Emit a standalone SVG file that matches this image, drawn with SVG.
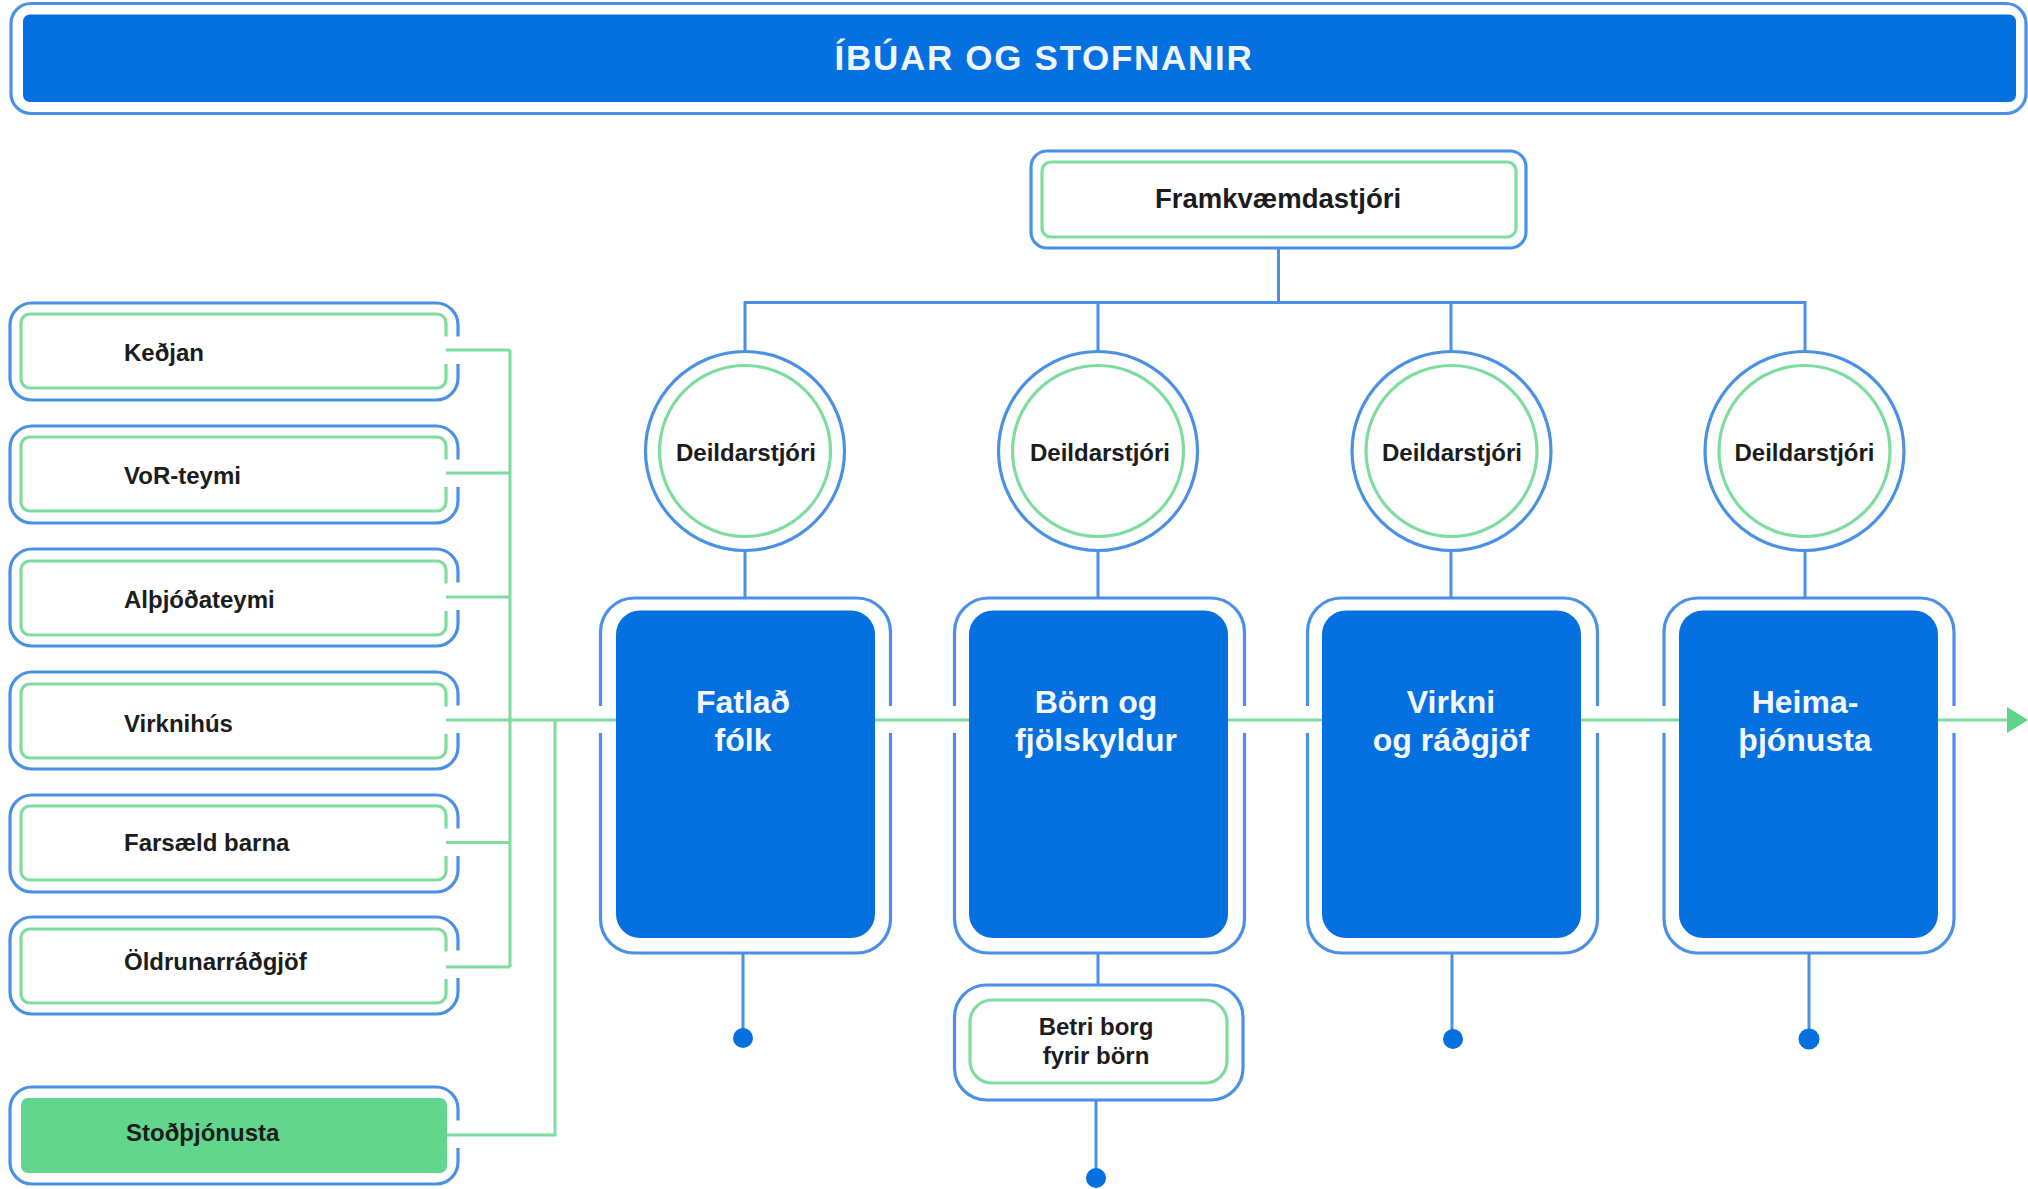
<svg xmlns="http://www.w3.org/2000/svg" xmlns:xlink="http://www.w3.org/1999/xlink" width="2028" height="1189" viewBox="0 0 2028 1189">
<style>
text{font-family:"Liberation Sans",Arial,sans-serif;font-weight:700;fill:#1c1c1c;text-anchor:middle}
.b{fill:none;stroke:#4a90e6;stroke-width:3.2}
.bw{fill:#fff;stroke:#4a90e6;stroke-width:3.2}
.g{fill:none;stroke:#7edc9f;stroke-width:3.2}
.gw{fill:#fff;stroke:#7edc9f;stroke-width:3.2}
.solid{fill:#0570e0}
.dot{fill:#0570e0}
.cb{fill:none;stroke:#4a90e6;stroke-width:3}
.cg{fill:none;stroke:#7edc9f;stroke-width:3}
.l{font-size:24px;text-anchor:start}
.m{font-size:24px}
.w{font-size:32px;fill:#f4f8fe}
</style>
<defs>
<path id="shell" class="b" d="M458 35.500V24a22 22 0 0 0-22-22H32a22 22 0 0 0-22 22V77a22 22 0 0 0 22 22H436a22 22 0 0 0 22-22V63"/>
<path id="innerg" class="g" d="M446 35.500V22a9 9 0 0 0-9-9H30a9 9 0 0 0-9 9V78a9 9 0 0 0 9 9H437a9 9 0 0 0 9-9V63"/>
<path id="tall" class="b" d="M290 108V34a34 34 0 0 0-34-34H34a34 34 0 0 0-34 34V108M0 135V321a34 34 0 0 0 34 34H256a34 34 0 0 0 34-34V135"/>
<g id="dept"><circle class="bw" r="99.500"/><circle class="gw" r="85.500"/></g>
</defs>
<rect width="2028" height="1189" fill="#fff"/>
<g id="connectors">
<path class="cb" d="M1278.500 248V302.500M745 352V302.500H1805V352M1098 302.500V352M1451 302.500V352M745 551V598M1098 551V598M1451 551V598M1805 551V598"/>
<path class="cb" d="M743 953V1038M1098 953V985M1096 1101V1179M1452 953V1038M1809 953V1039"/>
<path class="cg" d="M446 350H510M446 473H510M446 597H510M446 842.500H510M446 967H510M510 350V967M446 720H2010M447 1135H555V720"/>
<path d="M2007 707L2028 720L2007 733Z" fill="#5fd58a"/>
<circle class="dot" cx="743" cy="1038" r="10"/>
<circle class="dot" cx="1096" cy="1178" r="10"/>
<circle class="dot" cx="1453" cy="1039" r="10"/>
<circle class="dot" cx="1809" cy="1039" r="10.500"/>
</g>
<g id="banner">
<rect class="b" x="11" y="3.500" width="2015" height="110" rx="20"/>
<rect class="solid" x="23" y="14.500" width="1993" height="87.500" rx="7"/>
<text x="1044" y="70" font-size="35" letter-spacing="1.700" style="fill:#eef5fd">ÍBÚAR OG STOFNANIR</text>
</g>
<g id="framkvaemdastjori">
<rect class="bw" x="1031" y="151" width="495" height="97" rx="16"/>
<rect class="gw" x="1042" y="162" width="474" height="75" rx="9"/>
<text x="1278" y="208" font-size="27.500">Framkvæmdastjóri</text>
</g>
<g id="kedjan"><use href="#shell" y="301"/><use href="#innerg" y="301"/><text class="l" x="124" y="361">Keðjan</text></g>
<g id="vor"><use href="#shell" y="424"/><use href="#innerg" y="424"/><text class="l" x="124" y="484">VoR-teymi</text></g>
<g id="althjoda"><use href="#shell" y="547"/><use href="#innerg" y="548"/><text class="l" x="124" y="608">Alþjóðateymi</text></g>
<g id="virknihus"><use href="#shell" y="670"/><use href="#innerg" y="671"/><text class="l" x="124" y="732">Virknihús</text></g>
<g id="farsaeld"><use href="#shell" y="793"/><use href="#innerg" y="793"/><text class="l" x="124" y="851">Farsæld barna</text></g>
<g id="oldrun"><use href="#shell" y="915"/><use href="#innerg" y="916"/><text class="l" x="124" y="970">Öldrunarráðgjöf</text></g>
<g id="stod"><use href="#shell" y="1085"/>
<rect x="21" y="1098" width="426" height="75" rx="7" fill="#62d68c"/>
<text class="l" x="126" y="1141">Stoðþjónusta</text></g>
<g id="dept1"><use href="#dept" x="745" y="451"/><text class="m" x="746" y="461">Deildarstjóri</text></g>
<g id="dept2"><use href="#dept" x="1098" y="451"/><text class="m" x="1100" y="461">Deildarstjóri</text></g>
<g id="dept3"><use href="#dept" x="1451.500" y="451"/><text class="m" x="1452" y="461">Deildarstjóri</text></g>
<g id="dept4"><use href="#dept" x="1804.500" y="451"/><text class="m" x="1804.500" y="461">Deildarstjóri</text></g>
<g id="fatlad"><use href="#tall" x="600.500" y="598"/><rect class="solid" x="616" y="610.500" width="259" height="327.500" rx="24"/><text class="w" x="743" y="712.500">Fatlað</text><text class="w" x="743" y="750.500">fólk</text></g>
<g id="born"><use href="#tall" x="954.500" y="598"/><rect class="solid" x="969" y="610.500" width="259" height="327.500" rx="24"/><text class="w" x="1096" y="712.500">Börn og</text><text class="w" x="1096" y="750.500">fjölskyldur</text></g>
<g id="virkni"><use href="#tall" x="1307.500" y="598"/><rect class="solid" x="1322" y="610.500" width="259" height="327.500" rx="24"/><text class="w" x="1451" y="712.500">Virkni</text><text class="w" x="1451" y="750.500">og ráðgjöf</text></g>
<g id="heima"><use href="#tall" x="1664" y="598"/><rect class="solid" x="1679" y="610.500" width="259" height="327.500" rx="24"/><text class="w" x="1805" y="712.500">Heima-</text><text class="w" x="1805" y="750.500">þjónusta</text></g>
<g id="betri"><rect class="bw" x="954.500" y="985" width="288.500" height="115" rx="32"/><rect class="gw" x="970" y="1000" width="257" height="83" rx="22"/><text class="m" x="1096" y="1035">Betri borg</text><text class="m" x="1096" y="1064">fyrir börn</text></g>
</svg>
